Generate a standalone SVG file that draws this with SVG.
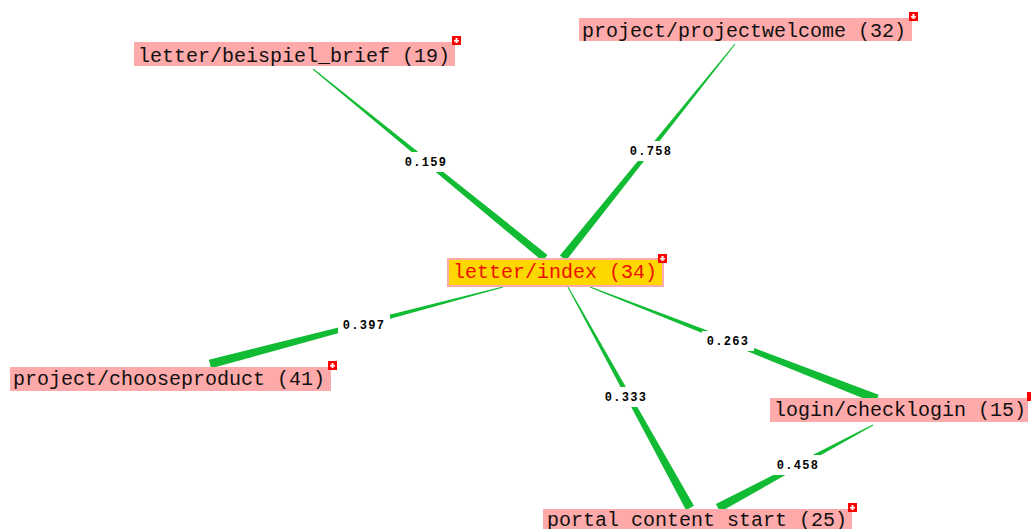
<svg xmlns="http://www.w3.org/2000/svg" width="1031" height="529" viewBox="0 0 1031 529">
<style>
.edge{fill:#11BB33}
.gap{fill:#ffffff}
.el{font-family:"Liberation Mono",monospace;font-weight:bold;font-size:12px;letter-spacing:1.3px;fill:#000;text-anchor:middle}
.box{fill:#FFAAAA}
.nt{font-family:"Liberation Mono",monospace;font-size:20px;fill:#111}
.mk{fill:#FF0000}
.mkg{fill:#ffffff}
</style>
<rect width="1031" height="529" fill="#ffffff"/>
<g id="connectors">
<polygon class="edge" points="312.68,69.39 542.47,261.10 547.53,254.90 313.32,68.61"/>
<polygon class="edge" points="734.61,43.69 559.88,255.49 566.12,260.51 735.39,44.31"/>
<polygon class="edge" points="502.87,286.52 208.86,359.65 211.14,368.35 503.13,287.48"/>
<polygon class="edge" points="589.82,287.47 875.36,403.19 878.64,394.81 590.18,286.53"/>
<polygon class="edge" points="567.56,287.24 686.06,510.17 693.94,505.83 568.44,286.76"/>
<polygon class="edge" points="872.76,424.56 715.88,504.03 720.12,511.97 873.24,425.44"/>
<rect class="gap" x="400" y="152" width="52" height="20"/>
<rect class="gap" x="625" y="141" width="52" height="20"/>
<rect class="gap" x="338" y="315" width="52" height="20"/>
<rect class="gap" x="702" y="331" width="52" height="20"/>
<rect class="gap" x="600" y="387" width="52" height="20"/>
<rect class="gap" x="772" y="455" width="52" height="20"/>
<text class="el" x="426" y="166">0.159</text>
<text class="el" x="651" y="155">0.758</text>
<text class="el" x="364" y="329">0.397</text>
<text class="el" x="728" y="345">0.263</text>
<text class="el" x="626" y="401">0.333</text>
<text class="el" x="798" y="469">0.458</text>
</g>
<g id="node-beispiel">
<rect class="box" x="134" y="42" width="321" height="24"/>
<text class="nt" x="138" y="62">letter/beispiel_brief (19)</text>
<rect class="mk" x="452" y="36" width="9" height="9"/>
<path class="mkg" d="M455.5,38h2v5h-2z M454,40h5v1.5h-5z"/>
</g>
<g id="node-projectwelcome">
<rect class="box" x="579" y="18" width="333" height="23"/>
<text class="nt" x="582" y="37">project/projectwelcome (32)</text>
<rect class="mk" x="909" y="12" width="9" height="9"/>
<path class="mkg" d="M912.5,14h2v5h-2z M911,16h5v1.5h-5z"/>
</g>
<g id="node-index">
<rect x="448" y="259" width="215" height="27" fill="#FFD700" stroke="#FFAAAA" stroke-width="2"/>
<text class="nt" x="453" y="278" style="fill:#EE1100">letter/index (34)</text>
<rect class="mk" x="658" y="254" width="9" height="9"/>
<path class="mkg" d="M661.5,256h2v5h-2z M660,258h5v1.5h-5z"/>
</g>
<g id="node-chooseproduct">
<rect class="box" x="10" y="367" width="321" height="24"/>
<text class="nt" x="13" y="385">project/chooseproduct (41)</text>
<rect class="mk" x="328" y="361" width="9" height="9"/>
<path class="mkg" d="M331.5,363h2v5h-2z M330,365h5v1.5h-5z"/>
</g>
<g id="node-checklogin">
<rect class="box" x="770" y="398" width="258" height="24"/>
<text class="nt" x="774" y="416">login/checklogin (15)</text>
<rect class="mk" x="1027" y="392" width="9" height="9"/>
</g>
<g id="node-portal">
<rect class="box" x="543" y="509" width="309" height="24"/>
<text class="nt" x="547" y="526">portal content start (25)</text>
<rect class="mk" x="848" y="503" width="9" height="9"/>
<path class="mkg" d="M851.5,505h2v5h-2z M850,507h5v1.5h-5z"/>
</g>
</svg>
